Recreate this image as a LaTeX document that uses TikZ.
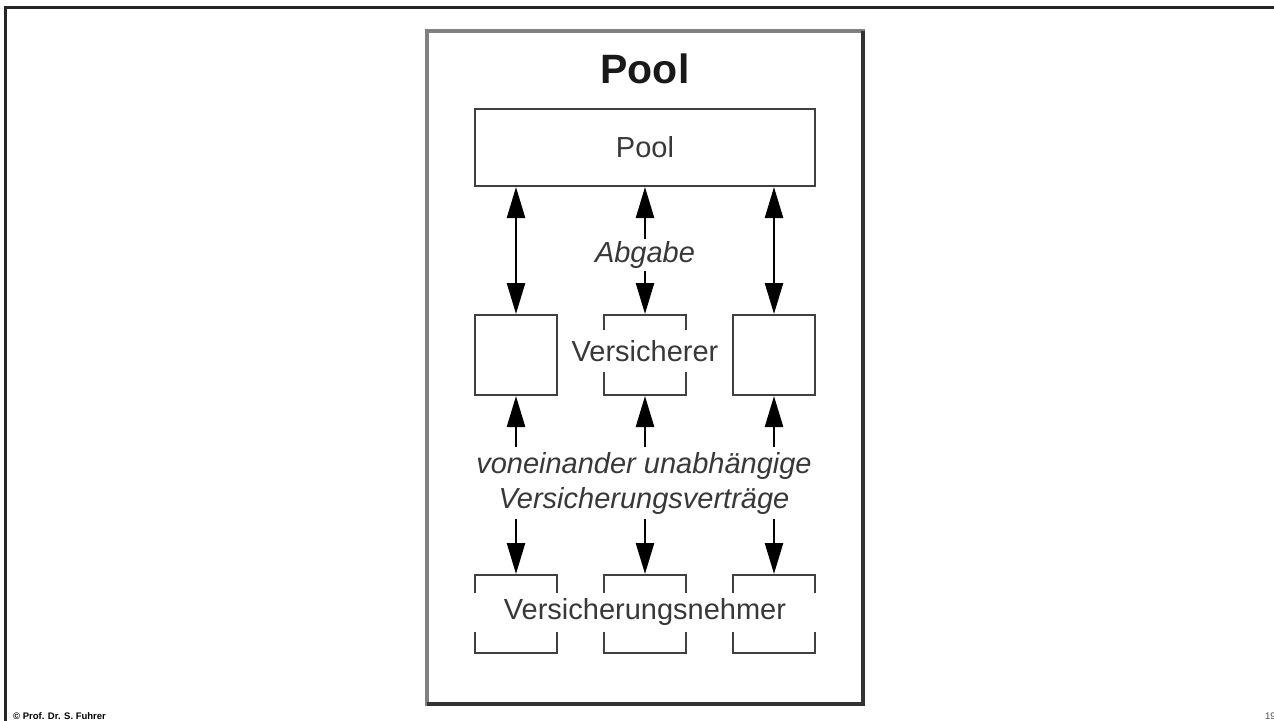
\documentclass[tikz,border=0pt]{standalone}
\usepackage{fontspec}
\setmainfont{Liberation Sans}
\usepackage{tikz}
\usetikzlibrary{positioning}
\usetikzlibrary{arrows.meta}

\tikzset{
	kasten/.style={draw=black!75, line width=2pt, inner sep=0pt,
		minimum width=82pt, minimum height=80pt},
	pfeil/.style={line width=2.5pt,
		{Triangle[length=31pt,width=18pt]}-{Triangle[length=31pt,width=18pt]}},
	schrift/.style={font=\fontsize{29}{35}\selectfont, text=black!78}
}

\begin{document}
\begin{tikzpicture}[x=1pt,y=-1pt]
	\useasboundingbox (0,0) rectangle (1274,720);
	
	% Folienrahmen
	\draw[line width=3pt, black!85] (5.5,740) -- (5.5,7.5) -- (1290,7.5);
	
	% Rahmen
	\node [draw=black!50,
		line width=3.5pt,
		outer sep=0pt,
		minimum width=436pt,
		minimum height=673pt
		] (rahmen) at (645,367.5) {};
	\draw[line width=3.5pt, black!80] (rahmen.north east) -- (rahmen.south east) -- (rahmen.south west);
	
	% Titel
	\node [font=\bfseries\fontsize{41}{41}\selectfont,
		text=black!90
		] (titel) at (645,69) {Pool};
	
	% Pool
	\node [draw=black!75,
		line width=2pt,
		schrift,
		minimum width=340pt,
		minimum height=77pt
		] (pool) at (645,147.5) {Pool};
	
	% Versicherer
	\node [kasten] (v1) at (516,355) {};
	\node [kasten, right=45pt of v1] (v2) {};
	\node [kasten, right=45pt of v2] (v3) {};
	
	% Versicherungsnehmer
	\node [kasten, minimum height=78pt, below=178pt of v1] (n1) {};
	\node [kasten, minimum height=78pt, below=178pt of v2] (n2) {};
	\node [kasten, minimum height=78pt, below=178pt of v3] (n3) {};
	
	% Arrows
	\draw[pfeil] (pool.south -| v1) -- (v1.north);
	\draw[pfeil] (pool.south -| v2) -- (v2.north);
	\draw[pfeil] (pool.south -| v3) -- (v3.north);
	\draw[pfeil] (v1.south) -- (n1.north);
	\draw[pfeil] (v2.south) -- (n2.north);
	\draw[pfeil] (v3.south) -- (n3.north);
	
	% Beschriftungen
	\node [schrift,
		font=\itshape\fontsize{29}{35}\selectfont,
		fill=white,
		inner sep=2pt
		] (abgabe) at (645,255) {Abgabe};
	\node [schrift,
		font=\itshape\fontsize{29}{35}\selectfont,
		fill=white,
		align=center,
		inner sep=5pt
		] (vertraege) at (644,483) {voneinander unabhängige\\Versicherungsverträge};
	\node [schrift,
		fill=white,
		inner sep=2pt,
		minimum height=42pt
		] (versicherer) at (645,351) {Versicherer};
	\node [schrift,
		fill=white,
		inner sep=0pt,
		minimum width=352pt,
		minimum height=39pt
		] (nehmer) at (645,612) {Versicherungsnehmer};
	
	% Fusszeile
	\node [anchor=base west,
		inner sep=0pt,
		font=\bfseries\fontsize{9.5}{10}\selectfont
		] (copy) at (13,719) {© Prof. Dr. S. Fuhrer};
	\node [anchor=base west,
		inner sep=0pt,
		text=black!70,
		font=\fontsize{9.5}{10}\selectfont
		] (seite) at (1265,719) {19};
\end{tikzpicture}
\end{document}
